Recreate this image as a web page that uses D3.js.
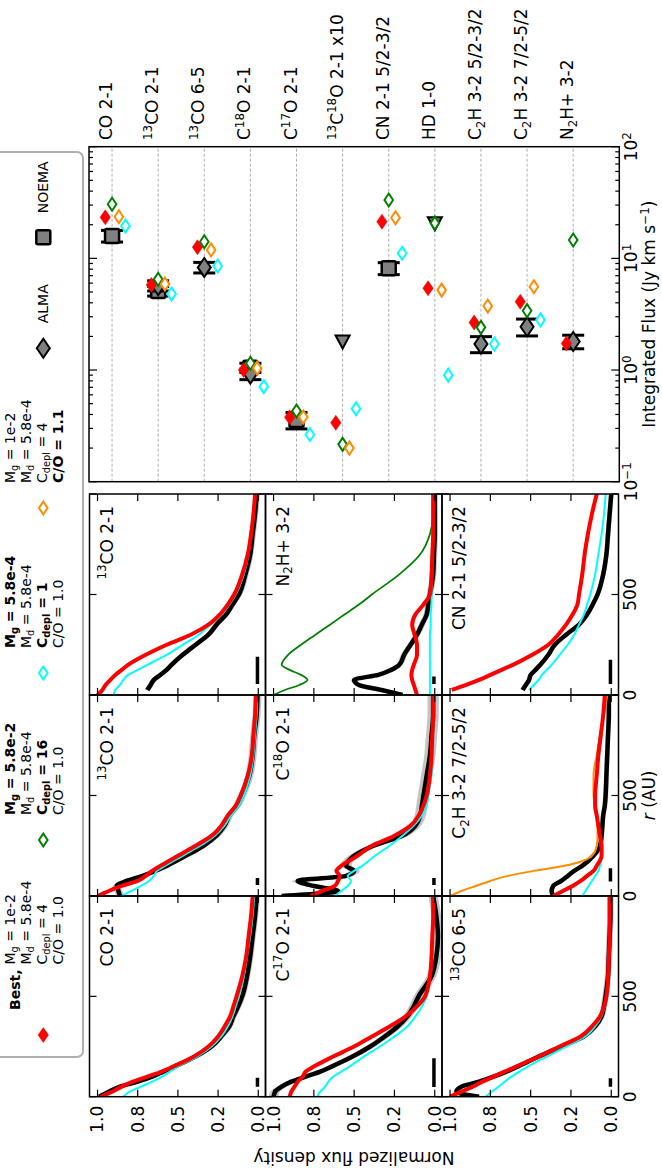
<!DOCTYPE html>
<html>
<head>
<meta charset="utf-8">
<script src="https://cdn.jsdelivr.net/npm/d3@7"></script>
<style>
body { margin: 0; background: #fff; }
text { font-family: "DejaVu Sans", sans-serif; white-space: pre; }
</style>
</head>
<body>
<svg id="fig" width="662" height="1168"></svg>
<script>
// ---- radial profiles (r in AU, normalized flux) ----
var rGrid = [0,25,50,75,100,125,150,200,250,300,350,400,450,500,600,700,800,900,1000];

var co21Obs  = [0.99,0.93,0.86,0.75,0.66,0.59,0.52,0.39,0.29,0.23,0.18,0.155,0.125,0.10,0.07,0.05,0.035,0.02,0.01];
var co21Best = [0.98,0.91,0.85,0.78,0.69,0.60,0.53,0.40,0.31,0.25,0.21,0.175,0.155,0.135,0.10,0.075,0.06,0.045,0.035];
var co21Cyan = [0.84,0.80,0.73,0.66,0.60,0.55,0.50,0.38,0.29,0.23,0.19,0.16,0.14,0.12,0.09,0.07,0.05,0.035,0.025];

var c13Obs  = [0.86,0.87,0.88,0.82,0.72,0.64,0.57,0.45,0.34,0.26,0.21,0.18,0.13,0.10,0.055,0.035,0.025,0.01,0.005];
var c13Best = [1.0,0.93,0.85,0.75,0.70,0.66,0.61,0.50,0.39,0.29,0.23,0.19,0.14,0.11,0.065,0.04,0.03,0.02,0.015];
var c13Cyan = [0.85,0.79,0.73,0.68,0.65,0.63,0.58,0.47,0.36,0.27,0.21,0.17,0.12,0.09,0.05,0.03,0.02,0.01,0.005];

var c13nObs  = [null,0.69,0.67,0.65,0.61,0.57,0.54,0.47,0.39,0.31,0.26,0.20,0.16,0.12,0.08,0.05,0.035,0.02,0.01];
var c13nBest = [1.0,0.97,0.95,0.92,0.89,0.85,0.81,0.70,0.57,0.42,0.31,0.24,0.19,0.15,0.10,0.065,0.045,0.03,0.02];
var c13nCyan = [0.9,0.89,0.86,0.84,0.81,0.75,0.69,0.57,0.47,0.37,0.30,0.23,0.18,0.14,0.09,0.06,0.045,0.03,0.02];

var c17Obs  = [1.0,0.99,0.95,0.89,0.80,0.71,0.64,0.51,0.40,0.31,0.23,0.17,0.13,0.10,0.02,-0.01,-0.02,-0.01,0.01];
var c17Best = [0.9,0.89,0.87,0.85,0.82,0.80,0.75,0.63,0.50,0.39,0.28,0.18,0.11,0.06,0.03,0.02,0.015,0.01,0.01];
var c17Cyan = [0.73,0.71,0.68,0.66,0.63,0.58,0.53,0.44,0.34,0.25,0.17,0.12,0.08,0.05,0.03,0.02,0.015,0.01,0.01];

var c18Obs  = [0.95,0.6,0.75,0.85,0.55,0.5,0.55,0.5,0.38,0.2,0.12,0.09,0.08,0.07,0.05,0.03,0.02,0.01,0.01];
var c18Best = [0.77,0.7,0.62,0.6,0.59,0.61,0.58,0.48,0.39,0.25,0.15,0.1,0.07,0.05,0.03,0.02,0.015,0.01,0.01];
var c18Cyan = [0.62,0.58,0.54,0.52,0.54,0.5,0.45,0.37,0.28,0.2,0.13,0.08,0.05,0.04,0.02,0.01,0.01,0.005,0.005];

var n2hObs   = [0.2,0.33,0.47,0.5,0.35,0.27,0.22,0.19,0.15,0.11,0.08,0.05,0.04,0.03,0.01,0.005,0,0,0];
var n2hBest  = [0.11,0.12,0.13,0.14,0.145,0.14,0.13,0.11,0.11,0.125,0.14,0.12,0.07,0.03,0.02,0.015,0.01,0.01,0.01];
var n2hCyan  = [0.03,0.03,0.03,0.03,0.03,0.03,0.03,0.03,0.03,0.03,0.025,0.025,0.02,0.02,0.015,0.015,0.01,0.01,0.01];
var n2hGreen = [1.0,0.93,0.84,0.79,0.83,0.9,0.95,0.91,0.83,0.74,0.65,0.56,0.47,0.39,0.22,0.09,0.03,0.01,0.01];

var c65Obs  = [0.82,0.96,0.93,0.82,0.73,0.65,0.58,0.45,0.31,0.17,0.10,0.06,0.045,0.035,0.02,0.015,0.01,0.005,0.005];
var c65Best = [1.0,0.93,0.86,0.8,0.73,0.66,0.59,0.45,0.32,0.19,0.12,0.07,0.045,0.03,0.02,0.015,0.01,0.01,0.01];
var c65Cyan = [0.78,0.74,0.7,0.66,0.62,0.57,0.52,0.4,0.28,0.16,0.1,0.06,0.04,0.03,0.02,0.015,0.01,0.01,0.01];

var c2hObs    = [0.36,0.37,0.36,0.31,0.27,0.23,0.18,0.11,0.07,0.06,0.055,0.05,0.04,0.035,0.03,0.025,0.02,0.015,0.015];
var c2hBest   = [0.36,0.3,0.24,0.19,0.15,0.11,0.09,0.06,0.06,0.07,0.08,0.09,0.1,0.1,0.09,0.08,0.065,0.05,0.04];
var c2hCyan   = [0.18,0.16,0.14,0.12,0.1,0.08,0.07,0.06,0.065,0.075,0.08,0.09,0.095,0.095,0.09,0.075,0.06,0.05,0.04];
var c2hOrange = [1.0,0.93,0.84,0.75,0.64,0.48,0.29,0.12,0.09,0.085,0.085,0.09,0.1,0.11,0.11,0.09,0.07,0.045,0.025];

var cnObs  = [null,0.55,0.53,0.51,0.5,0.47,0.44,0.39,0.35,0.28,0.2,0.15,0.115,0.085,0.05,0.03,0.02,0.01,0.0];
var cnBest = [null,0.99,0.9,0.82,0.75,0.68,0.61,0.49,0.39,0.33,0.28,0.24,0.21,0.2,0.18,0.165,0.145,0.12,0.09];
var cnCyan = [null,0.51,0.48,0.45,0.43,0.4,0.37,0.32,0.27,0.23,0.2,0.17,0.15,0.13,0.1,0.08,0.06,0.045,0.035];

var panelNames = ["CO 2-1","^{13}CO 2-1","^{13}CO 2-1","C^{17}O 2-1","C^{18}O 2-1","N_{2}H+ 3-2","^{13}CO 6-5","C_{2}H 3-2 7/2-5/2","CN 2-1 5/2-3/2"];
var panelBeams = [[50,95],[55,90],[55,190],[48,192],[55,90],[55,92],[50,92],[72,138],[55,175]];
var panelErr = [0.02,0.025,0.02,0.03,0.035,0.02,0.02,0.015,0.015];
var yTicks = [0,0.25,0.5,0.75,1.0];
var yTickLabels = ["0.0","0.2","0.5","0.8","1.0"];
var rTicks = [0,500,1000];
var rTickLabels = ["0","500",""];

// ---- integrated fluxes (Jy km/s) ----
var species = ["CO 2-1","^{13}CO 2-1","^{13}CO 6-5","C^{18}O 2-1","C^{17}O 2-1","^{13}C^{18}O 2-1 x10","CN 2-1 5/2-3/2","HD 1-0","C_{2}H 3-2 5/2-3/2","C_{2}H 3-2 7/2-5/2","N_{2}H+ 3-2"];
var obsAlma     = [null,5.7,8.3,0.92,null,null,null,null,1.71,2.44,1.8];
var obsAlmaErr  = [null,0.6,0.9,0.1,null,null,null,null,0.28,0.42,0.25];
var obsNoema    = [15.9,5.1,null,1.05,0.357,null,8.15,null,null,null,null];
var obsNoemaErr = [1.9,0.5,null,0.1,0.06,null,1.0,null,null,null,null];
var upperLimit  = [null,null,null,null,null,1.8,null,20.6,null,null,null];
var fluxBest   = [23.3,5.78,12.6,1.0,0.377,0.337,21.3,5.4,2.66,4.09,1.73];
var fluxGreen  = [30.5,6.5,14.1,1.15,0.43,0.216,33.3,20.7,2.41,3.4,14.6];
var fluxOrange = [23.6,5.9,11.9,1.04,0.38,0.2,23.1,5.2,3.74,5.57,null];
var fluxCyan   = [19.5,4.8,8.55,0.71,0.265,0.45,11.1,0.9,1.71,2.81,null];
var fluxTicks = [0.1,1,10,100];
var fluxTickLabels = ["10^{\u22121}","10^{0}","10^{1}","10^{2}"];

var legendLines = [
  ["M_{g} = 1e-2","M_{d} = 5.8e-4","C_{depl} = 4","C/O = 1.0"],
  ["!M_{g} = 5.8e-2","M_{d} = 5.8e-4","!C_{depl} = 16","C/O = 1.0"],
  ["!M_{g} = 5.8e-4","M_{d} = 5.8e-4","!C_{depl} = 1","C/O = 1.0"],
  ["M_{g} = 1e-2","M_{d} = 5.8e-4","C_{depl} = 4","!C/O = 1.1"]
];

var RED = "#ff0000", GREEN = "#008000", CYAN = "#00ffff", ORANGE = "#ff8c00", GRAY = "#808080";

// whole figure is laid out landscape (1168 x 662), then turned a quarter turn
var svg = d3.select("#fig");
var fig = svg.append("g").attr("transform", "translate(0,1168) rotate(-90)");

function rich(sel, str, size) {
  var bold = false;
  if (str[0] == "!") { bold = true; str = str.slice(1); }
  if (bold) sel.attr("font-weight", "bold");
  var parts = str.split(/(\^\{[^}]*\}|_\{[^}]*\})/).filter(function(s) { return s.length; });
  var shift = 0;
  parts.forEach(function(p) {
    var t = sel.append("tspan");
    if (p[0] == "^") { t.text(p.slice(2, -1)).attr("font-size", size * 0.7).attr("dy", -size * 0.38 - shift); shift = -size * 0.38; }
    else if (p[0] == "_") { t.text(p.slice(2, -1)).attr("font-size", size * 0.7).attr("dy", size * 0.22 - shift); shift = size * 0.22; }
    else { t.text(p).attr("dy", -shift); shift = 0; }
  });
}

function diamond(a, b) { return "M" + (-a) + ",0L0," + (-b) + "L" + a + ",0L0," + b + "Z"; }

// ---- panels ----
var colX = [[71.3, 272], [272, 473], [473, 674]];
var rowY = [[89.5, 265.5], [265.5, 442], [442, 618.5]];
var panels = [
  {obs: co21Obs, lines: [[co21Cyan, CYAN, 2], [co21Best, RED, 4]]},
  {obs: c13Obs, lines: [[c13Cyan, CYAN, 2], [c13Best, RED, 4]]},
  {obs: c13nObs, lines: [[c13nCyan, CYAN, 2], [c13nBest, RED, 4]]},
  {obs: c17Obs, lines: [[c17Cyan, CYAN, 2], [c17Best, RED, 4]]},
  {obs: c18Obs, lines: [[c18Cyan, CYAN, 2], [c18Best, RED, 4]]},
  {obs: n2hObs, lines: [[n2hCyan, CYAN, 2], [n2hGreen, GREEN, 1.8], [n2hBest, RED, 4]]},
  {obs: c65Obs, lines: [[c65Cyan, CYAN, 2], [c65Best, RED, 4]]},
  {obs: c2hObs, lines: [[c2hCyan, CYAN, 2], [c2hOrange, ORANGE, 2], [c2hBest, RED, 4]]},
  {obs: cnObs, lines: [[cnCyan, CYAN, 2], [cnBest, RED, 4]]}
];

panels.forEach(function(p, i) {
  var row = Math.floor(i / 3), col = i % 3;
  var x = d3.scaleLinear().domain([0, 1000]).range(colX[col]);
  var y = d3.scaleLinear().domain([-0.045, 1.05]).range([rowY[row][1], rowY[row][0]]);
  var pg = fig.append("g");
  var cid = "clip" + i;
  pg.append("clipPath").attr("id", cid).append("rect")
    .attr("x", colX[col][0]).attr("y", rowY[row][0])
    .attr("width", colX[col][1] - colX[col][0]).attr("height", rowY[row][1] - rowY[row][0]);
  var cg = pg.append("g").attr("clip-path", "url(#" + cid + ")");
  var err = panelErr[i];
  var band = d3.area().defined(function(d) { return d[1] != null; })
    .x(function(d) { return x(d[0]); })
    .y0(function(d) { return y(d[1] - err); })
    .y1(function(d) { return y(d[1] + err); })
    .curve(d3.curveMonotoneX);
  var line = d3.line().defined(function(d) { return d[1] != null; })
    .x(function(d) { return x(d[0]); })
    .y(function(d) { return y(d[1]); })
    .curve(d3.curveMonotoneX);
  var obsPts = rGrid.map(function(r, k) { return [r, p.obs[k]]; });
  cg.append("path").attr("d", band(obsPts)).attr("fill", "#c4c4c4");
  cg.append("path").attr("d", line(obsPts)).attr("fill", "none").attr("stroke", "#000").attr("stroke-width", 4.5);
  p.lines.forEach(function(l) {
    var pts = rGrid.map(function(r, k) { return [r, l[0][k]]; });
    cg.append("path").attr("d", line(pts)).attr("fill", "none").attr("stroke", l[1]).attr("stroke-width", l[2]);
  });
  // beam
  cg.append("line").attr("x1", x(panelBeams[i][0])).attr("x2", x(panelBeams[i][1]))
    .attr("y1", y(0.005)).attr("y2", y(0.005)).attr("stroke", "#000").attr("stroke-width", 3.5);

  // frame and ticks
  pg.append("rect").attr("x", colX[col][0]).attr("y", rowY[row][0])
    .attr("width", colX[col][1] - colX[col][0]).attr("height", rowY[row][1] - rowY[row][0])
    .attr("fill", "none").attr("stroke", "#000").attr("stroke-width", 1.5);
  yTicks.forEach(function(t, k) {
    pg.append("line").attr("x1", colX[col][0]).attr("x2", colX[col][0] + 7).attr("y1", y(t)).attr("y2", y(t)).attr("stroke", "#000").attr("stroke-width", 1.2);
    pg.append("line").attr("x1", colX[col][1]).attr("x2", colX[col][1] - 7).attr("y1", y(t)).attr("y2", y(t)).attr("stroke", "#000").attr("stroke-width", 1.2);
    if (col == 0) {
      pg.append("text").attr("x", colX[0][0] - 9).attr("y", y(t)).attr("dy", "0.35em")
        .attr("text-anchor", "end").attr("font-size", 17).text(yTickLabels[k]);
    }
  });
  rTicks.forEach(function(t, k) {
    pg.append("line").attr("x1", x(t)).attr("x2", x(t)).attr("y1", rowY[row][0]).attr("y2", rowY[row][0] + 7).attr("stroke", "#000").attr("stroke-width", 1.2);
    pg.append("line").attr("x1", x(t)).attr("x2", x(t)).attr("y1", rowY[row][1]).attr("y2", rowY[row][1] - 7).attr("stroke", "#000").attr("stroke-width", 1.2);
    if (row == 2 && rTickLabels[k]) {
      pg.append("text").attr("x", x(t)).attr("y", 636).attr("text-anchor", "middle").attr("font-size", 17).text(rTickLabels[k]);
    }
  });
  var lab = pg.append("text").attr("x", colX[col][1] - 12).attr("y", rowY[row][0] + 23)
    .attr("text-anchor", "end").attr("font-size", 17);
  rich(lab, panelNames[i], 17);
});

fig.append("text").attr("x", (colX[0][0] + colX[2][1]) / 2).attr("y", 655).attr("text-anchor", "middle")
  .attr("font-size", 17).html('<tspan font-style="italic">r</tspan> (AU)');
fig.append("text").attr("transform", "translate(16," + ((rowY[0][0] + rowY[2][1]) / 2) + ") rotate(-90)")
  .attr("text-anchor", "middle").attr("font-size", 17).text("Normalized flux density");

// ---- integrated flux plot ----
var fx = d3.scaleLog().domain([0.1, 100]).range([686.3, 1021.3]);
var fy = d3.scaleLinear().domain([-0.5, 11]).range([89, 619.3]);
var fg = fig.append("g");

species.forEach(function(s, i) {
  fg.append("line").attr("x1", fx(0.1)).attr("x2", fx(100)).attr("y1", fy(i)).attr("y2", fy(i))
    .attr("stroke", "#999").attr("stroke-width", 0.8).attr("stroke-dasharray", "3,2");
  var t = fg.append("text").attr("x", 1028).attr("y", fy(i)).attr("dy", "0.36em").attr("font-size", 17);
  rich(t, s, 17);
});

fx.ticks().forEach(function(t) {
  var major = fluxTicks.indexOf(t) >= 0;
  var len = major ? 8 : 4;
  fg.append("line").attr("x1", fx(t)).attr("x2", fx(t)).attr("y1", 89).attr("y2", 89 + len).attr("stroke", "#000").attr("stroke-width", 1.2);
  fg.append("line").attr("x1", fx(t)).attr("x2", fx(t)).attr("y1", 619.3).attr("y2", 619.3 - len).attr("stroke", "#000").attr("stroke-width", 1.2);
});
fluxTicks.forEach(function(t, k) {
  var tt = fg.append("text").attr("x", fx(t)).attr("y", 637).attr("text-anchor", "middle").attr("font-size", 17);
  rich(tt, fluxTickLabels[k], 17);
});
var xl = fg.append("text").attr("x", (fx(0.1) + fx(100)) / 2).attr("y", 655).attr("text-anchor", "middle").attr("font-size", 17);
rich(xl, "Integrated Flux (Jy km s^{\u22121})", 17);

function errBar(v, e, yy) {
  fg.append("line").attr("x1", fx(v - e)).attr("x2", fx(v + e)).attr("y1", yy).attr("y2", yy).attr("stroke", "#000").attr("stroke-width", 3);
  [v - e, v + e].forEach(function(c) {
    fg.append("line").attr("x1", fx(c)).attr("x2", fx(c)).attr("y1", yy - 11).attr("y2", yy + 11).attr("stroke", "#000").attr("stroke-width", 3);
  });
}

species.forEach(function(s, i) {
  var yy = fy(i);
  if (obsNoema[i] != null) {
    errBar(obsNoema[i], obsNoemaErr[i], yy);
    fg.append("rect").attr("x", fx(obsNoema[i]) - 7).attr("y", yy - 7).attr("width", 14).attr("height", 14)
      .attr("rx", 1.5).attr("fill", GRAY).attr("stroke", "#000").attr("stroke-width", 2.5);
  }
  if (obsAlma[i] != null) {
    errBar(obsAlma[i], obsAlmaErr[i], yy);
    fg.append("path").attr("d", diamond(9.5, 6.5)).attr("transform", "translate(" + fx(obsAlma[i]) + "," + yy + ")")
      .attr("fill", GRAY).attr("stroke", "#000").attr("stroke-width", 2);
  }
  if (upperLimit[i] != null) {
    fg.append("path").attr("d", "M-7,0L6,-7L6,7Z").attr("transform", "translate(" + fx(upperLimit[i]) + "," + yy + ")")
      .attr("fill", GRAY).attr("stroke", "#000").attr("stroke-width", 2);
  }
  [[fluxBest, RED, -6.8, true], [fluxGreen, GREEN, 0, false], [fluxOrange, ORANGE, 6.8, false], [fluxCyan, CYAN, 13.4, false]].forEach(function(m) {
    var v = m[0][i];
    if (v == null) return;
    fg.append("path").attr("d", m[3] ? diamond(7.5, 5.2) : diamond(6.5, 4.3))
      .attr("transform", "translate(" + fx(v) + "," + (yy + m[2]) + ")")
      .attr("fill", m[3] ? m[1] : "#fff").attr("stroke", m[1]).attr("stroke-width", m[3] ? 0.5 : 2);
  });
});
fg.append("rect").attr("x", fx(0.1)).attr("y", 89).attr("width", fx(100) - fx(0.1)).attr("height", 619.3 - 89)
  .attr("fill", "none").attr("stroke", "#000").attr("stroke-width", 1.5);

// ---- legend ----
var lg = fig.append("g");
lg.append("rect").attr("x", 111).attr("y", -12).attr("width", 1016 - 111).attr("height", 95).attr("rx", 6)
  .attr("fill", "#fff").attr("stroke", "#b0b0b0").attr("stroke-width", 2);
var legMarkX = [1168 - 1035, 1168 - 840, 1168 - 673, 1168 - 508];
var legColors = [RED, GREEN, CYAN, ORANGE];
var lineY = [15, 31, 47, 63];
legMarkX.forEach(function(mx, k) {
  lg.append("path").attr("d", k == 0 ? diamond(7.5, 5.2) : diamond(6.5, 4.3)).attr("transform", "translate(" + mx + ",43.3)")
    .attr("fill", k == 0 ? RED : "#fff").attr("stroke", legColors[k]).attr("stroke-width", k == 0 ? 0.5 : 2);
  var tx = mx + 25;
  if (k == 0) {
    var b = lg.append("text").attr("x", tx).attr("y", lineY[0]).attr("dy", "0.36em").attr("font-size", 14).attr("font-weight", "bold").text("Best,");
    tx += b.node().getComputedTextLength() + 5;
  }
  legendLines[k].forEach(function(s, j) {
    var t = lg.append("text").attr("x", tx).attr("y", lineY[j]).attr("dy", "0.36em").attr("font-size", 14);
    rich(t, s, 14);
  });
});
var almaX = 1168 - 348.3, noemaX = 1168 - 237.3;
lg.append("path").attr("d", diamond(9.5, 6.5)).attr("transform", "translate(" + almaX + ",43.3)")
  .attr("fill", GRAY).attr("stroke", "#000").attr("stroke-width", 2);
lg.append("text").attr("x", almaX + 25).attr("y", 43.3).attr("dy", "0.36em").attr("font-size", 14).text("ALMA");
lg.append("rect").attr("x", noemaX - 7).attr("y", 43.3 - 7).attr("width", 14).attr("height", 14).attr("rx", 1.5)
  .attr("fill", GRAY).attr("stroke", "#000").attr("stroke-width", 2.5);
lg.append("text").attr("x", noemaX + 24).attr("y", 43.3).attr("dy", "0.36em").attr("font-size", 14).text("NOEMA");
</script>
</body>
</html>
